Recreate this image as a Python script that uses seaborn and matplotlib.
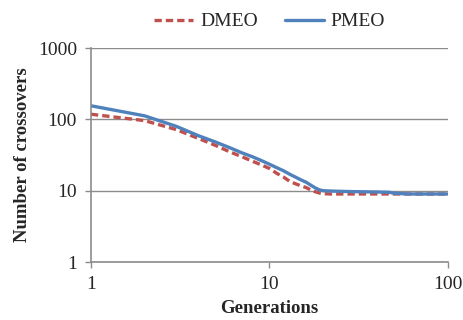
import numpy as np
import pandas as pd
import matplotlib
matplotlib.use("Agg")
import matplotlib.pyplot as plt
import matplotlib.ticker as mticker
from matplotlib.lines import Line2D
import seaborn as sns

# data
generations = [1, 2, 3, 4, 5, 6, 7, 8, 9, 10, 11, 12, 13, 14, 15, 16, 17, 18, 19, 20,
               22, 25, 30, 40, 47, 50, 60, 70, 80, 90, 100]
dmeo = [118, 96, 72, 54, 43, 35, 30, 26, 23, 20.5, 17.5, 15.5, 13.5, 12.5, 11.7, 11.1, 10.3, 9.7, 9.3, 9.1,
        9.0, 9.0, 9.0, 9.0, 9.0, 9.0, 9.0, 9.0, 9.0, 9.0, 9.0]
pmeo = [155, 112, 80, 59, 48, 40, 34, 30, 26.5, 23.5, 21, 19, 17, 15.5, 14.2, 13.2, 12, 11, 10.3, 10.0,
        9.9, 9.8, 9.7, 9.6, 9.5, 9.2, 9.0, 9.0, 9.0, 9.0, 9.0]

df = pd.DataFrame({
    "Generations": generations * 2,
    "value": dmeo + pmeo,
    "series": ["DMEO"] * len(dmeo) + ["PMEO"] * len(pmeo),
})

sns.set_style("white")
plt.rcParams["font.family"] = ["Liberation Serif", "DejaVu Serif"]

fig = plt.figure(figsize=(4.64, 3.2), dpi=100)
ax = fig.add_axes([0.196, 0.181, 0.7695, 0.669])

sns.lineplot(data=df, x="Generations", y="value", hue="series", style="series",
             palette={"DMEO": "#C0504D", "PMEO": "#4F81BD"},
             dashes={"DMEO": (2.2, 1.2), "PMEO": ""},
             linewidth=2.4, ax=ax, legend=False)

ax.set_xscale("log")
ax.set_yscale("log")
ax.set_xlim(1, 100)
ax.set_ylim(1, 1000)
ax.xaxis.set_major_locator(mticker.FixedLocator([1, 10, 100]))
ax.yaxis.set_major_locator(mticker.FixedLocator([1, 10, 100, 1000]))
ax.xaxis.set_minor_locator(mticker.NullLocator())
ax.yaxis.set_minor_locator(mticker.NullLocator())
ax.xaxis.set_major_formatter(mticker.FormatStrFormatter("%g"))
ax.yaxis.set_major_formatter(mticker.FormatStrFormatter("%g"))

ax.yaxis.grid(True, color="#8c8c8c", linewidth=1.0)
ax.set_axisbelow(True)
for side in ["top", "right"]:
    ax.spines[side].set_visible(False)
for side in ["left", "bottom"]:
    ax.spines[side].set_color("#8c8c8c")
    ax.spines[side].set_linewidth(1.2)

ax.tick_params(axis="both", which="major", direction="out", length=4, width=1,
               color="#8c8c8c", labelsize=14, bottom=True, left=True)
ax.tick_params(axis="x", pad=6)
ax.tick_params(axis="y", pad=6)
ax.set_xlabel("Generations", fontsize=13.5, fontweight="bold", labelpad=5)
ax.set_ylabel("Number of crossovers", fontsize=13.5, fontweight="bold", labelpad=5)

handles = [Line2D([], [], color="#C0504D", linewidth=2.4, dashes=(2.2, 1.2)),
           Line2D([], [], color="#4F81BD", linewidth=2.4)]
fig.legend(handles, ["DMEO", "PMEO"], loc="upper center", bbox_to_anchor=(0.581, 1.015),
           ncol=2, frameon=False, fontsize=14, handlelength=2.0, handletextpad=0.35,
           columnspacing=1.4)

fig.savefig("out.png", dpi=100)
